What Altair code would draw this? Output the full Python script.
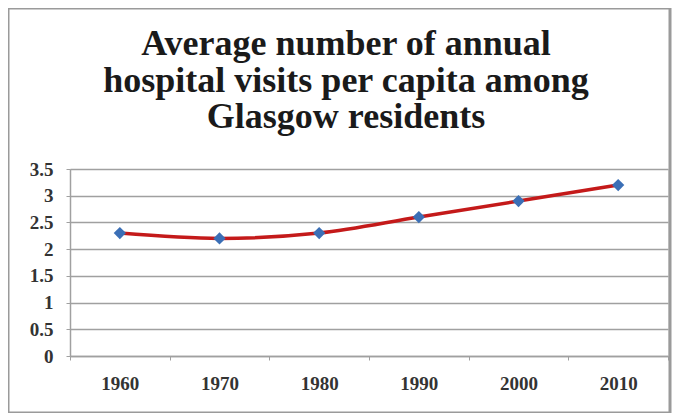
import altair as alt
import pandas as pd

years = ["1960", "1970", "1980", "1990", "2000", "2010"]
visits = [2.3, 2.2, 2.3, 2.6, 2.9, 3.2]
title_lines = ["Average number of annual", "hospital visits per capita among", "Glasgow residents"]
y_ticks = [0, 0.5, 1, 1.5, 2, 2.5, 3, 3.5]

df = pd.DataFrame({"year": years, "visits": visits})

PW, PH = 598, 187
PAD = {"left": 62, "top": 161, "right": 11, "bottom": 57}

x_enc = alt.X("year:N", sort=years, bandPosition=0.5,
              scale=alt.Scale(type="band", paddingInner=0, paddingOuter=0),
              axis=alt.Axis(title=None, grid=False, tickBand="extent", labelAngle=0,
                            labelFont="Liberation Serif", labelFontSize=19, labelFontWeight="bold",
                            labelColor="#333333", labelPadding=14, tickSize=4, tickColor="#a0a0a0",
                            domainColor="#a0a0a0", domainWidth=1.5))
y_enc = alt.Y("visits:Q", scale=alt.Scale(domain=[0, 3.5], nice=False),
              axis=alt.Axis(title=None, values=y_ticks, labelExpr="datum.value + ''",
                            labelFont="Liberation Serif", labelFontSize=19, labelFontWeight="bold",
                            labelColor="#333333", labelPadding=13, tickSize=4, tickColor="#a0a0a0",
                            gridColor="#a0a0a0", gridWidth=1.5,
                            domainColor="#a0a0a0", domainWidth=1.5))

base = alt.Chart(df)
line = base.mark_line(color="#c41a1a", strokeWidth=3.5, interpolate="monotone").encode(x=x_enc, y=y_enc)
pts = base.mark_point(shape="diamond", filled=True, color="#3b6fb6", size=150, opacity=1).encode(x=x_enc, y=y_enc)

tdf = pd.DataFrame({"t": ["\n".join(title_lines)]})
title = alt.Chart(tdf).mark_text(font="Liberation Serif", fontSize=36, fontWeight="bold",
                                 color="#1a1a1a", lineBreak="\n", lineHeight=36.6,
                                 align="center", baseline="alphabetic").encode(
    text="t:N", x=alt.value(276), y=alt.value(-114))

border = alt.Chart(pd.DataFrame({"b": [0]})).mark_rect(fill=None, stroke="#9a9a9a", strokeWidth=3).encode(
    x=alt.value(-62), x2=alt.value(PW + 2), y=alt.value(-161), y2=alt.value(PH + 57))

chart = alt.layer(border, line, pts, title).properties(
    width=PW, height=PH,
    autosize=alt.AutoSizeParams(type="none"),
    padding=PAD,
).configure_view(stroke=None).configure(background="white")

chart.save("out.html", embed_options={"renderer": "svg", "actions": False})
